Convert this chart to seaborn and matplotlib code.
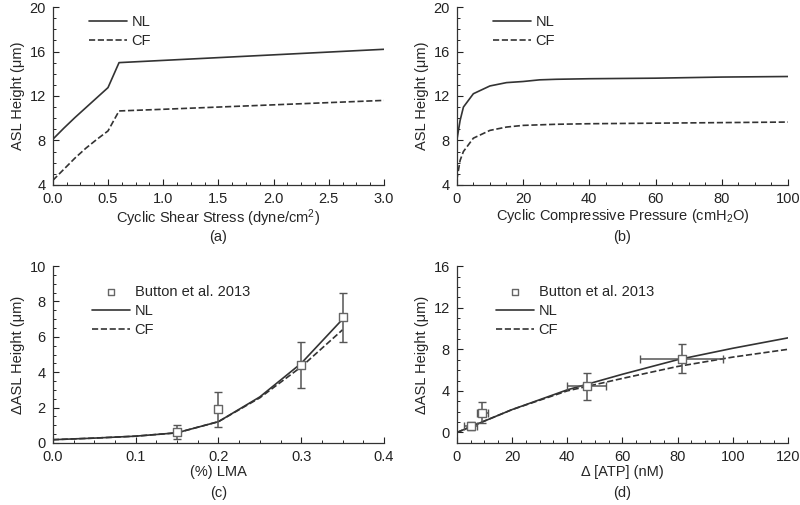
import numpy as np
import matplotlib
matplotlib.use("Agg")
import matplotlib.pyplot as plt
import seaborn as sns
from matplotlib.ticker import AutoMinorLocator

# (a) cyclic shear stress
shear_x = [0, 0.1, 0.2, 0.3, 0.4, 0.5, 0.6, 1.0, 1.5, 2.0, 2.5, 3.0]
shear_nl = [8.1, 9.1, 10.05, 10.95, 11.85, 12.75, 15.0, 15.2, 15.45, 15.7, 15.95, 16.2]
shear_cf = [4.4, 5.4, 6.4, 7.3, 8.1, 8.85, 10.65, 10.8, 11.0, 11.2, 11.4, 11.6]

# (b) cyclic compressive pressure
press_x = [0, 1, 2, 5, 10, 15, 20, 25, 30, 40, 60, 80, 100]
press_nl = [8.0, 9.8, 11.0, 12.2, 12.9, 13.2, 13.3, 13.45, 13.5, 13.55, 13.6, 13.7, 13.75]
press_cf = [4.45, 6.2, 7.0, 8.2, 8.9, 9.2, 9.35, 9.4, 9.45, 9.5, 9.55, 9.6, 9.65]

# (c) LMA
lma_x = [0, 0.05, 0.1, 0.15, 0.2, 0.25, 0.3, 0.35]
lma_nl = [0.18, 0.27, 0.38, 0.57, 1.2, 2.6, 4.5, 7.0]
lma_cf = [0.18, 0.27, 0.38, 0.57, 1.2, 2.55, 4.3, 6.4]
lma_obs_x = [0.15, 0.2, 0.3, 0.35]
lma_obs_y = [0.6, 1.9, 4.4, 7.1]
lma_obs_err = [0.4, 1.0, 1.3, 1.4]

# (d) ATP
atp_x = [0, 10, 20, 40, 60, 80, 100, 120]
atp_nl = [0.0, 1.1, 2.2, 4.1, 5.6, 7.0, 8.1, 9.1]
atp_cf = [0.0, 1.1, 2.2, 4.0, 5.2, 6.35, 7.25, 8.0]
atp_obs_x = [5, 9.3, 47, 81.5]
atp_obs_y = [0.64, 1.9, 4.45, 7.1]
atp_obs_xerr = [2.4, 2.0, 7.0, 15.0]
atp_obs_yerr = [0.4, 1.0, 1.3, 1.4]

sns.set_style("ticks")
plt.rcParams["font.family"] = ["Liberation Sans", "DejaVu Sans"]
plt.rcParams["mathtext.fontset"] = "custom"
plt.rcParams["mathtext.rm"] = "Liberation Sans"
plt.rcParams["mathtext.it"] = "Liberation Sans:italic"
plt.rcParams["font.size"] = 10
plt.rcParams["xtick.direction"] = "in"
plt.rcParams["ytick.direction"] = "in"

line_col = "#333333"
err_col = "#555555"

fig = plt.figure(figsize=(8, 5.05), dpi=100)
ax_a = fig.add_axes([0.066, 0.634, 0.414, 0.352])
ax_b = fig.add_axes([0.571, 0.634, 0.414, 0.352])
ax_c = fig.add_axes([0.066, 0.123, 0.414, 0.350])
ax_d = fig.add_axes([0.571, 0.123, 0.414, 0.350])


def style(ax):
    sns.despine(ax=ax)
    ax.xaxis.set_minor_locator(AutoMinorLocator(4))
    ax.yaxis.set_minor_locator(AutoMinorLocator(4))
    ax.tick_params(which="major", length=4, width=0.8, labelsize=10.5, colors="#222222")
    ax.tick_params(axis="x", which="major", pad=5)
    ax.tick_params(axis="y", which="major", pad=5)
    ax.tick_params(which="minor", length=2.5, width=0.7)
    for s in ax.spines.values():
        s.set_linewidth(0.9)
        s.set_color("#333333")


def model_lines(ax, x, nl, cf):
    sns.lineplot(x=x, y=nl, ax=ax, color=line_col, lw=1.2, label="NL")
    sns.lineplot(x=x, y=cf, ax=ax, color=line_col, lw=1.2, linestyle="--", label="CF")


leg_kw = dict(loc="upper left", frameon=False, handlelength=2.6, handletextpad=0.3,
              labelspacing=0.35, fontsize=10.5)

# (a)
model_lines(ax_a, shear_x, shear_nl, shear_cf)
ax_a.set_xlim(0, 3)
ax_a.set_ylim(4, 20)
ax_a.set_yticks([4, 8, 12, 16, 20])
ax_a.set_xlabel("Cyclic Shear Stress (dyne/cm$^2$)", fontsize=10.5)
ax_a.set_ylabel("ASL Height (\u03bcm)", fontsize=10.5)
ax_a.legend(bbox_to_anchor=(0.07, 1.03), **leg_kw)

# (b)
model_lines(ax_b, press_x, press_nl, press_cf)
ax_b.set_xlim(0, 100)
ax_b.set_ylim(4, 20)
ax_b.set_yticks([4, 8, 12, 16, 20])
ax_b.set_xlabel("Cyclic Compressive Pressure (cmH$_2$O)", fontsize=10.5)
ax_b.set_ylabel("ASL Height (\u03bcm)", fontsize=10.5)
ax_b.legend(bbox_to_anchor=(0.07, 1.03), **leg_kw)

# (c)
ax_c.errorbar(lma_obs_x, lma_obs_y, yerr=lma_obs_err, fmt="none", ecolor=err_col,
              elinewidth=1.1, capsize=3, zorder=3)
sns.scatterplot(x=lma_obs_x, y=lma_obs_y, ax=ax_c, marker="s", s=40, facecolor="white",
                edgecolor="#666666", linewidth=1.0, zorder=5, label="Button et al. 2013")
model_lines(ax_c, lma_x, lma_nl, lma_cf)
ax_c.set_xlim(0, 0.4)
ax_c.set_ylim(0, 10)
ax_c.set_xticks([0, 0.1, 0.2, 0.3, 0.4])
ax_c.set_yticks([0, 2, 4, 6, 8, 10])
ax_c.set_xlabel("(%) LMA", fontsize=10.5)
ax_c.set_ylabel("\u0394ASL Height (\u03bcm)", fontsize=10.5)
ax_c.legend(bbox_to_anchor=(0.08, 0.97), markerscale=0.65, **leg_kw)

# (d)
ax_d.errorbar(atp_obs_x, atp_obs_y, xerr=atp_obs_xerr, yerr=atp_obs_yerr, fmt="none",
              ecolor=err_col, elinewidth=1.1, capsize=3, zorder=3)
sns.scatterplot(x=atp_obs_x, y=atp_obs_y, ax=ax_d, marker="s", s=40, facecolor="white",
                edgecolor="#666666", linewidth=1.0, zorder=5, label="Button et al. 2013")
model_lines(ax_d, atp_x, atp_nl, atp_cf)
ax_d.set_xlim(0, 120)
ax_d.set_ylim(-1, 16)
ax_d.set_yticks([0, 4, 8, 12, 16])
ax_d.set_xlabel("\u0394 [ATP] (nM)", fontsize=10.5)
ax_d.set_ylabel("\u0394ASL Height (\u03bcm)", fontsize=10.5)
ax_d.legend(bbox_to_anchor=(0.08, 0.97), markerscale=0.65, **leg_kw)

for ax in (ax_a, ax_b, ax_c, ax_d):
    style(ax)
    ax.xaxis.labelpad = 1
    ax.yaxis.labelpad = 3

fig.text(0.273, 0.531, "(a)", ha="center", va="center", fontsize=10.5)
fig.text(0.778, 0.531, "(b)", ha="center", va="center", fontsize=10.5)
fig.text(0.273, 0.024, "(c)", ha="center", va="center", fontsize=10.5)
fig.text(0.778, 0.024, "(d)", ha="center", va="center", fontsize=10.5)

fig.savefig("out.png", dpi=100, facecolor="white")
